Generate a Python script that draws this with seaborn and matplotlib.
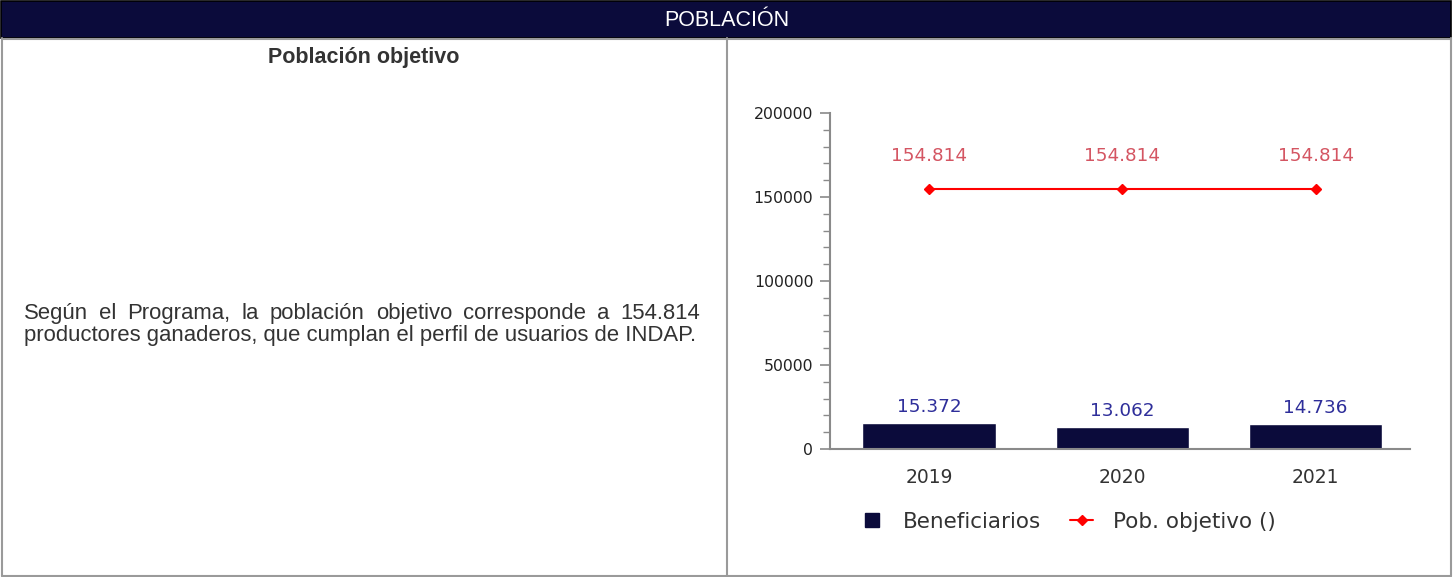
import matplotlib
matplotlib.use("Agg")
import matplotlib.pyplot as plt
import seaborn as sns
import pandas as pd
from matplotlib.patches import Rectangle
from matplotlib.lines import Line2D
from matplotlib.ticker import MultipleLocator

# ---- data ----
years = ["2019", "2020", "2021"]
beneficiarios = [15372, 13062, 14736]
pob_objetivo = [154814, 154814, 154814]
bar_labels = ["15.372", "13.062", "14.736"]
pob_labels = ["154.814", "154.814", "154.814"]
y_ticks = [0, 50000, 100000, 150000, 200000]

header_text = "POBLACIÓN"
left_title = "Población objetivo"
para_line1 = "Según el Programa, la población objetivo corresponde a 154.814"
para_line2 = "productores ganaderos, que cumplan el perfil de usuarios de INDAP."
legend_labels = ["Beneficiarios", "Pob. objetivo ()"]

sns.set_theme(style="white")
plt.rcParams["font.family"] = ["DejaVu Sans"]

W, H = 1453, 577
fig = plt.figure(figsize=(W / 100, H / 100), dpi=100)


def fx(px):
    return px / W


def fy(py):
    return 1 - py / H


NAVY = "#0b0b3b"
BORDER = "#9a9a9a"

# header
fig.add_artist(Rectangle((fx(1), fy(38)), (1451 - 1) / W, 37 / H,
                         transform=fig.transFigure, facecolor=NAVY,
                         edgecolor="#000000", lw=1.2))
fig.text(fx(727), fy(20), header_text, color="white", fontsize=15.5,
         family=["Liberation Sans"], ha="center", va="center")

# table borders
for (x0, y0, x1, y1) in [(1.5, 38, 1.5, 576), (1451, 38, 1451, 576),
                         (1.5, 576, 1451, 576), (727.5, 38, 727.5, 576),
                         (1.5, 39, 1451, 39)]:
    fig.add_artist(Line2D([fx(x0), fx(x1)], [fy(y0), fy(y1)],
                          transform=fig.transFigure, color=BORDER, lw=1.5))

# left cell
fig.text(fx(364), fy(57), left_title, color="#333333", fontsize=15.5,
         fontweight="bold", family=["Liberation Sans"], ha="center", va="center")

TXT = dict(color="#333333", fontsize=15.9, family=["Liberation Sans"], va="baseline")
renderer = fig.canvas.get_renderer()
words = para_line1.split(" ")
objs = [fig.text(fx(24), fy(319), w, **TXT) for w in words]
widths = [o.get_window_extent(renderer=renderer).width for o in objs]
gap = (700 - 24 - sum(widths)) / (len(words) - 1)
x = 24.0
for o, w in zip(objs, widths):
    o.set_x(fx(x))
    x += w + gap
fig.text(fx(24), fy(341), para_line2, **TXT)

# chart
ax = fig.add_axes([fx(830), fy(449), (1410 - 830) / W, (449 - 113) / H])
df = pd.DataFrame({"year": years, "benef": beneficiarios, "pob": pob_objetivo})
sns.barplot(data=df, x="year", y="benef", color=NAVY, saturation=1,
            width=0.69, ax=ax, zorder=2)
xs = list(range(len(years)))
ax.plot(xs, df["pob"], color="#ff0000", lw=1.5, marker="D", markersize=5, zorder=3)

for i, (v, lab) in enumerate(zip(beneficiarios, bar_labels)):
    ax.annotate(lab, (i, v), xytext=(0, 8), textcoords="offset points",
                ha="center", va="baseline", color="#2e2e9a", fontsize=13.2)
for i, (v, lab) in enumerate(zip(pob_objetivo, pob_labels)):
    ax.annotate(lab, (i, v), xytext=(0, 20), textcoords="offset points",
                ha="center", va="baseline", color="#d45562", fontsize=13.2)

ax.set_xlim(-0.512, 2.488)
ax.set_ylim(0, 200000)
ax.set_yticks(y_ticks)
ax.set_yticklabels([str(t) for t in y_ticks])
ax.yaxis.set_minor_locator(MultipleLocator(10000))
ax.set_xlabel("")
ax.set_ylabel("")
for s in ["top", "right"]:
    ax.spines[s].set_visible(False)
for s in ["left", "bottom"]:
    ax.spines[s].set_color("#8a8a8a")
    ax.spines[s].set_linewidth(1.5)
ax.tick_params(axis="y", which="major", left=True, length=7, width=1.2,
               color="#8a8a8a", pad=5, labelsize=11.3, labelcolor="#222222")
ax.tick_params(axis="y", which="minor", left=True, length=5, width=1.0,
               color="#8a8a8a")
ax.tick_params(axis="x", length=0, pad=14, labelsize=13.5, labelcolor="#333333")
ax.grid(False)
ax.set_facecolor("white")

# legend
handles = [Line2D([], [], ls="none", marker="s", markersize=10, color=NAVY),
           Line2D([], [], color="#ff0000", lw=1.5, marker="D", markersize=5)]
fig.legend(handles, legend_labels, loc="center", bbox_to_anchor=(fx(1068), fy(522)),
           ncol=2, frameon=False, fontsize=15.5, labelcolor="#333333",
           handlelength=1.07, handletextpad=0.9, columnspacing=1.35)

fig.savefig("out.png", dpi=100)
